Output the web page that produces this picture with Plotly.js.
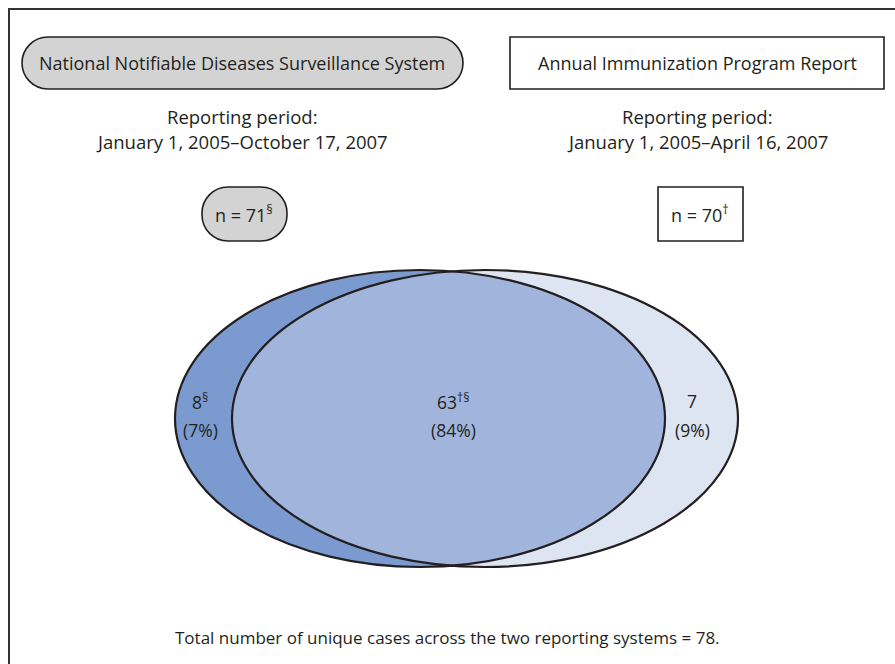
<!DOCTYPE html>
<html>
<head>
<meta charset="utf-8">
<script src="https://cdn.plot.ly/plotly-3.0.1.min.js"></script>
<style>html,body{margin:0;padding:0;background:#fff;}#chart{width:895px;height:664px;}</style>
</head>
<body>
<div id="chart"></div>
<script>
// ---- data ----
const systems = ["National Notifiable Diseases Surveillance System", "Annual Immunization Program Report"];
const periods = ["January 1, 2005\u2013October 17, 2007", "January 1, 2005\u2013April 16, 2007"];
const systemTotals = [71, 70];
const totalMarks = ["\u00a7", "\u2020"];
const regionCounts = [8, 63, 7];
const regionPercents = [7, 84, 9];
const regionMarks = ["\u00a7", "\u2020\u00a7", ""];
const uniqueTotal = 78;

// ---- layout constants ----
const W = 895, H = 664;
const FONT = "'Open Sans', sans-serif";
const TXT = "#231f20";
const OUT = "#231f20";
const cy = 418.5, ry = 148.5;
const E1 = {cx: 420, rx: 245};   // NNDSS
const E2 = {cx: 485, rx: 253};   // Annual report
const colLeft = "#7b9bd0", colMid = "#a1b5dc", colRight = "#dde4f2", pillFill = "#d3d3d3";

function roundRect(x0, y0, x1, y1, r) {
  const k = 0.5523 * r;
  return `M${x0 + r},${y0} L${x1 - r},${y0} C${x1 - r + k},${y0} ${x1},${y0 + r - k} ${x1},${y0 + r} ` +
         `L${x1},${y1 - r} C${x1},${y1 - r + k} ${x1 - r + k},${y1} ${x1 - r},${y1} ` +
         `L${x0 + r},${y1} C${x0 + r - k},${y1} ${x0},${y1 - r + k} ${x0},${y1 - r} ` +
         `L${x0},${y0 + r} C${x0},${y0 + r - k} ${x0 + r - k},${y0} ${x0 + r},${y0} Z`;
}

// intersection region path
function lensPath() {
  const left = [], right = [];
  const N = 400;
  for (let i = 0; i <= N; i++) {
    const y = cy - ry + (2 * ry) * i / N;
    const t = (y - cy) / ry;
    const s = Math.sqrt(Math.max(0, 1 - t * t));
    const xl = E2.cx - E2.rx * s;
    const xr = E1.cx + E1.rx * s;
    if (xr >= xl) { left.push([xl, y]); right.push([xr, y]); }
  }
  const pts = left.concat(right.reverse());
  return "M" + pts.map(p => p[0].toFixed(2) + "," + p[1].toFixed(2)).join(" L") + " Z";
}

const shapes = [
  // frame
  {type: "rect", x0: 9, y0: 9, x1: W + 20, y1: H + 20, line: {color: "#333", width: 2}, fillcolor: "rgba(0,0,0,0)"},
  // header boxes
  {type: "path", path: roundRect(22, 37, 463, 89, 26), line: {color: OUT, width: 1.6}, fillcolor: pillFill},
  {type: "rect", x0: 510, y0: 37, x1: 884, y1: 89, line: {color: OUT, width: 1.6}, fillcolor: "#fff"},
  // n boxes
  {type: "path", path: roundRect(202, 187, 287, 241, 26), line: {color: OUT, width: 1.6}, fillcolor: pillFill},
  {type: "rect", x0: 658, y0: 187, x1: 743, y1: 241, line: {color: OUT, width: 1.6}, fillcolor: "#fff"},
  // ellipse fills
  {type: "circle", x0: E2.cx - E2.rx, x1: E2.cx + E2.rx, y0: cy - ry, y1: cy + ry, line: {width: 0}, fillcolor: colRight},
  {type: "circle", x0: E1.cx - E1.rx, x1: E1.cx + E1.rx, y0: cy - ry, y1: cy + ry, line: {width: 0}, fillcolor: colLeft},
  {type: "path", path: lensPath(), line: {width: 0}, fillcolor: colMid},
  // outlines
  {type: "circle", x0: E1.cx - E1.rx, x1: E1.cx + E1.rx, y0: cy - ry, y1: cy + ry, line: {color: OUT, width: 2.2}, fillcolor: "rgba(0,0,0,0)"},
  {type: "circle", x0: E2.cx - E2.rx, x1: E2.cx + E2.rx, y0: cy - ry, y1: cy + ry, line: {color: OUT, width: 2.2}, fillcolor: "rgba(0,0,0,0)"}
];
shapes.forEach(s => { s.xref = "x"; s.yref = "y"; s.layer = "above"; });

function ann(x, y, text, size) {
  return {x: x, y: y, xref: "x", yref: "y", text: text, showarrow: false,
          xanchor: "center", yanchor: "middle", font: {family: FONT, size: size || 16, color: TXT}};
}
const headX = [242, 697];
const nX = [244, 700];
const regionX = [200, 453, 692];
const annotations = [];
for (let i = 0; i < 2; i++) {
  annotations.push(ann(headX[i], 63, systems[i], 18));
  annotations.push(ann(headX[i], 116, "Reporting period:", 18.5));
  annotations.push(ann(headX[i], 141, periods[i], 18.5));
  annotations.push(ann(nX[i], 214, "n = " + systemTotals[i] + "<sup>" + totalMarks[i] + "</sup>", 18));
}
for (let i = 0; i < 3; i++) {
  const m = regionMarks[i] ? "<sup>" + regionMarks[i] + "</sup>" : "";
  annotations.push(ann(regionX[i], 401, regionCounts[i] + m, 17.5));
  annotations.push(ann(regionX[i], 430, "(" + regionPercents[i] + "%)", 17.5));
}
annotations.push(ann(447, 637, "Total number of unique cases across the two reporting systems = " + uniqueTotal + ".", 17));

const layout = {
  width: W, height: H,
  margin: {l: 0, r: 0, t: 0, b: 0},
  paper_bgcolor: "#fff", plot_bgcolor: "#fff",
  xaxis: {range: [0, W], visible: false, fixedrange: true},
  yaxis: {range: [H, 0], visible: false, fixedrange: true},
  showlegend: false,
  shapes: shapes,
  annotations: annotations
};
Plotly.newPlot("chart", [{x: [], y: [], type: "scatter", mode: "markers", hoverinfo: "skip"}], layout, {staticPlot: true});
</script>
</body>
</html>
